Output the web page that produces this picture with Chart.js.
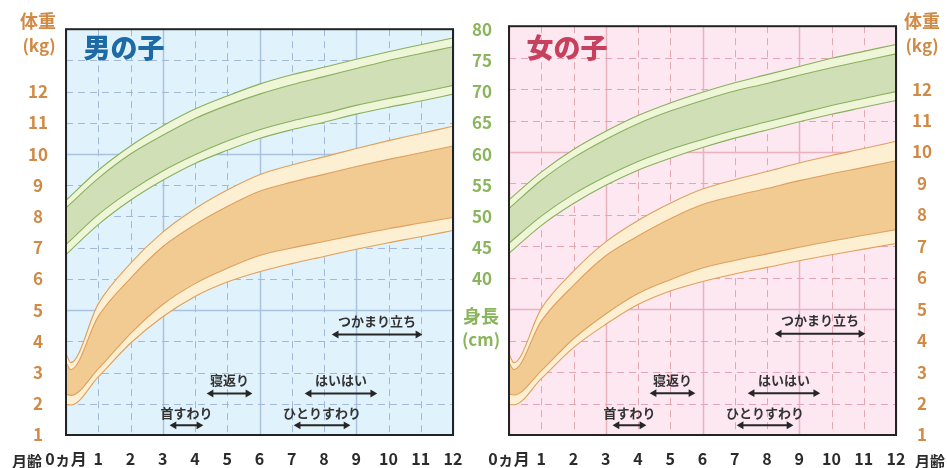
<!DOCTYPE html>
<html><head><meta charset="utf-8">
<script src="https://cdn.jsdelivr.net/npm/chart.js@4.4.0/dist/chart.umd.min.js"></script>
<style>
html,body{margin:0;padding:0;background:#fff;}
#wrap{position:relative;width:947px;height:468px;overflow:hidden;font-family:'Noto Sans CJK JP',sans-serif;}
canvas{position:absolute;top:0;}
.t{position:absolute;font-weight:700;white-space:nowrap;line-height:1;transform:translate(-50%,-50%);}
</style></head><body>
<div id="wrap">
<canvas id="boy" width="512" height="468" style="left:0;width:512px;height:468px"></canvas>
<canvas id="girl" width="487" height="468" style="left:460px;width:487px;height:468px"></canvas>
<div class="t" style="left:38px;top:20px;font-size:18px;color:#d08a45">体重</div>
<div class="t" style="left:39px;top:44px;font-size:17px;color:#d08a45">(kg)</div>
<div class="t" style="left:922px;top:20px;font-size:18px;color:#d08a45">体重</div>
<div class="t" style="left:922px;top:44px;font-size:17px;color:#d08a45">(kg)</div>
<div class="t" style="left:481px;top:315px;font-size:18px;color:#8ab55c">身長</div>
<div class="t" style="left:481px;top:338px;font-size:17px;color:#8ab55c">(cm)</div>
<div class="t" style="left:27px;top:460px;font-size:15px;color:#2b2b2b">月齢</div>
<div class="t" style="left:930px;top:460px;font-size:15px;color:#2b2b2b">月齢</div>
<div class="t" style="left:124px;top:46px;font-size:27px;font-weight:900;color:#1d6aa6">男の子</div>
<div class="t" style="left:567px;top:46px;font-size:27px;font-weight:900;color:#c7415f">女の子</div>
</div>
<script>
// ---- data ----
const months = [0,1,2,3,4,5,6,7,8,9,10,11,12];
const weightMonths = [0,0.15,1,2,3,4,5,6,7,8,9,10,11,12];

const boyWeightP97 = [3.60,3.32,5.20,6.50,7.50,8.25,8.85,9.34,9.65,9.91,10.18,10.43,10.66,10.89];
const boyWeightP90 = [3.32,3.09,4.80,6.02,7.03,7.74,8.32,8.81,9.10,9.35,9.60,9.83,10.04,10.26];
const boyWeightP10 = [2.31,2.27,3.12,4.25,5.18,5.85,6.34,6.75,6.99,7.20,7.41,7.61,7.79,7.97];
const boyWeightP3  = [1.98,1.96,2.86,3.94,4.79,5.44,5.90,6.23,6.49,6.72,6.95,7.16,7.35,7.55];

const girlWeightP97 = [3.58,3.30,5.02,6.21,7.14,7.82,8.37,8.82,9.12,9.38,9.65,9.89,10.11,10.34];
const girlWeightP90 = [3.30,3.08,4.62,5.76,6.70,7.33,7.88,8.33,8.60,8.84,9.09,9.31,9.51,9.72];
const girlWeightP10 = [2.31,2.27,3.04,4.06,4.85,5.50,5.94,6.31,6.55,6.76,6.97,7.17,7.35,7.53];
const girlWeightP3  = [1.98,1.96,2.79,3.78,4.52,5.15,5.58,5.88,6.12,6.33,6.54,6.73,6.91,7.09];

const boyHeightP97 = [52.6,57.4,61.3,64.5,67.2,69.3,71.2,72.7,73.9,75.2,76.4,77.5,78.6];
const boyHeightP90 = [51.4,56.1,60.0,63.0,65.7,67.8,69.6,71.1,72.4,73.7,75.0,76.1,77.2];
const boyHeightP10 = [45.5,50.3,54.1,57.3,59.9,62.1,63.9,65.3,66.5,67.8,68.9,69.9,71.0];
const boyHeightP3  = [43.9,48.7,52.6,55.8,58.5,60.6,62.5,63.9,65.1,66.4,67.5,68.5,69.6];

const girlHeightP97 = [52.4,56.8,60.4,63.3,65.8,67.8,69.5,71.0,72.3,73.6,74.9,76.0,77.1];
const girlHeightP90 = [51.0,55.5,59.1,62.0,64.5,66.5,68.2,69.7,70.9,72.2,73.4,74.5,75.6];
const girlHeightP10 = [45.5,49.8,53.3,56.1,58.5,60.4,62.0,63.5,64.8,66.1,67.4,68.5,69.6];
const girlHeightP3  = [43.9,48.3,51.8,54.7,57.1,59.0,60.7,62.2,63.5,64.8,66.0,67.1,68.2];

const milestoneLabels  = ['首すわり','寝返り','ひとりすわり','はいはい','つかまり立ち'];
const milestoneStart   = [3.35,4.50,7.20,7.54,8.38];
const milestoneEnd     = [4.12,5.64,8.68,9.51,10.91];
const milestoneArrowKg = [1.31,2.33,1.31,2.33,4.22];
const milestoneLabelKg = [1.71,2.76,1.71,2.76,4.65];

const weightTickMax = 12;   // weight labels shown up to 12 kg
const heightTickMin = 40;   // height labels shown from 40 cm

// ---- styles ----
const C = {
  orangeLine:'#dfa05e', orangeLight:'#fdefd1', orangeDark:'#f2cb93',
  greenLine:'#89b05f', greenLight:'#eff5d7', greenDark:'#d1dfb6',
  wLabel:'#d08a45', hLabel:'#8ab55c', xLabel:'#2b2b2b'
};
Chart.defaults.font.family = "'Noto Sans CJK JP', sans-serif";
Chart.defaults.font.weight = 'bold';

function pts(xs, ys){ return xs.map((m,i)=>({x:m, y:ys[i]})); }

function buildDatasets(w, h){
  const ds = [];
  const line = (data, color, axis, order) => ({data, borderColor:color, borderWidth:1.1, pointRadius:0,
    cubicInterpolationMode:'monotone', yAxisID:axis, order, fill:false, backgroundColor:'rgba(0,0,0,0)'});
  ds.push(line(pts(months,h[0]), C.greenLine, 'y2', 5));
  ds.push(line(pts(months,h[1]), C.greenLine, 'y2', 4));
  ds.push(line(pts(months,h[2]), C.greenLine, 'y2', 3));
  ds.push(line(pts(months,h[3]), C.greenLine, 'y2', 3));
  ds[0].fill = 3; ds[0].backgroundColor = C.greenLight;
  ds[1].fill = 2; ds[1].backgroundColor = C.greenDark;
  ds.push(line(pts(weightMonths,w[0]), C.orangeLine, 'y', 5));
  ds.push(line(pts(weightMonths,w[1]), C.orangeLine, 'y', 4));
  ds.push(line(pts(weightMonths,w[2]), C.orangeLine, 'y', 3));
  ds.push(line(pts(weightMonths,w[3]), C.orangeLine, 'y', 3));
  ds[4].fill = 7; ds[4].backgroundColor = C.orangeLight;
  ds[5].fill = 6; ds[5].backgroundColor = C.orangeDark;
  milestoneLabels.forEach((_,i)=>{
    ds.push({data:[{x:milestoneStart[i],y:milestoneArrowKg[i]},{x:milestoneEnd[i],y:milestoneArrowKg[i]}],
      borderColor:'#262626', borderWidth:2, pointStyle:'triangle', pointRadius:4.5, pointRotation:[270,90],
      pointBackgroundColor:'#262626', pointBorderColor:'#262626', pointBorderWidth:0, yAxisID:'y', order:0, fill:false, tension:0});
  });
  return ds;
}

function panelPlugin(opt){
  return {
    id:'panel',
    beforeDraw(chart){
      const a = chart.chartArea, ctx = chart.ctx;
      ctx.save(); ctx.fillStyle = opt.bg; ctx.fillRect(a.left, a.top, a.right-a.left, a.bottom-a.top); ctx.restore();
    },
    beforeDatasetsDraw(chart){
      const a = chart.chartArea, ctx = chart.ctx, {x, y} = chart.scales;
      ctx.save();
      x.ticks.forEach(t=>{
        const major = t.value % 3 === 0, px = Math.round(x.getPixelForValue(t.value)) + 0.5;
        ctx.strokeStyle = major ? opt.solid : opt.dashed; ctx.lineWidth = major ? 1.5 : 1;
        ctx.setLineDash(major ? [] : [7,5]);
        ctx.beginPath(); ctx.moveTo(px, a.top); ctx.lineTo(px, a.bottom); ctx.stroke();
      });
      y.ticks.forEach(t=>{
        const major = t.value % 5 === 0, py = Math.round(y.getPixelForValue(t.value)) + 0.5;
        ctx.strokeStyle = major ? opt.solid : opt.dashed; ctx.lineWidth = major ? 1.5 : 1;
        ctx.setLineDash(major ? [] : [7,5]);
        ctx.beginPath(); ctx.moveTo(a.left, py); ctx.lineTo(a.right, py); ctx.stroke();
      });
      ctx.restore();
    },
    afterDatasetsDraw(chart){
      const {ctx, scales:{x,y}} = chart;
      ctx.save();
      ctx.font = "bold 13px 'Noto Sans CJK JP'";
      ctx.fillStyle = '#333'; ctx.textAlign = 'center'; ctx.textBaseline = 'middle';
      milestoneLabels.forEach((t,i)=>{
        ctx.fillText(t, x.getPixelForValue((milestoneStart[i]+milestoneEnd[i])/2), y.getPixelForValue(milestoneLabelKg[i]));
      });
      ctx.restore();
    },
    afterDraw(chart){
      const a = chart.chartArea, ctx = chart.ctx;
      ctx.save(); ctx.strokeStyle = '#232323'; ctx.lineWidth = 2;
      ctx.strokeRect(a.left, a.top, a.right-a.left, a.bottom-a.top); ctx.restore();
    }
  };
}

function makeChart(id, w, h, opt){
  const scales = {
    x:{type:'linear', min:0, max:12,
      ticks:{stepSize:1, padding:14, color:C.xLabel, font:{size:16, weight:'bold'}, autoSkip:false, maxRotation:0,
        callback:v => v === 0 ? '0ヵ月' : v},
      grid:{display:false, drawTicks:false},
      border:{display:false},
      afterFit:s => { s.height = 33; }
    },
    y:{type:'linear', position:opt.weightPos, min:1, max:14,
      ticks:{stepSize:1, padding:opt.weightPad, crossAlign:'center', color:C.wLabel, font:{size:17, weight:'bold'},
        callback:v => v <= weightTickMax ? v : ''},
      grid:{display:false, drawTicks:false},
      border:{display:false},
      afterFit:s => { s.width = opt.weightWidth; }
    },
    y2:{type:'linear', position:'right', min:15, max:80, display:opt.showHeight,
      ticks:{stepSize:5, padding:19, crossAlign:'center', color:C.hLabel, font:{size:17, weight:'bold'},
        callback:v => v >= heightTickMin ? v : ''},
      grid:{drawOnChartArea:false, drawTicks:false},
      border:{display:false},
      afterFit:s => { if (opt.showHeight) s.width = 59; }
    }
  };
  return new Chart(document.getElementById(id), {
    type:'line',
    data:{datasets:buildDatasets(w,h)},
    options:{responsive:false, animation:false, events:[],
      layout:{padding:{top:15, left:opt.padLeft, right:0, bottom:0}},
      plugins:{legend:{display:false}, tooltip:{enabled:false}},
      scales},
    plugins:[panelPlugin(opt)]
  });
}

makeChart('boy', [boyWeightP97,boyWeightP90,boyWeightP10,boyWeightP3], [boyHeightP97,boyHeightP90,boyHeightP10,boyHeightP3],
  {bg:'#e0f2fb', solid:'#a9c2df', dashed:'#a3b9d8', weightPos:'left', weightPad:18, weightWidth:66, showHeight:true, padLeft:0});
makeChart('girl', [girlWeightP97,girlWeightP90,girlWeightP10,girlWeightP3], [girlHeightP97,girlHeightP90,girlHeightP10,girlHeightP3],
  {bg:'#fde7f0', solid:'#e8b3bd', dashed:'#e4a6b2', weightPos:'right', weightPad:16, weightWidth:51, showHeight:false, padLeft:49});
</script>
</body></html>
